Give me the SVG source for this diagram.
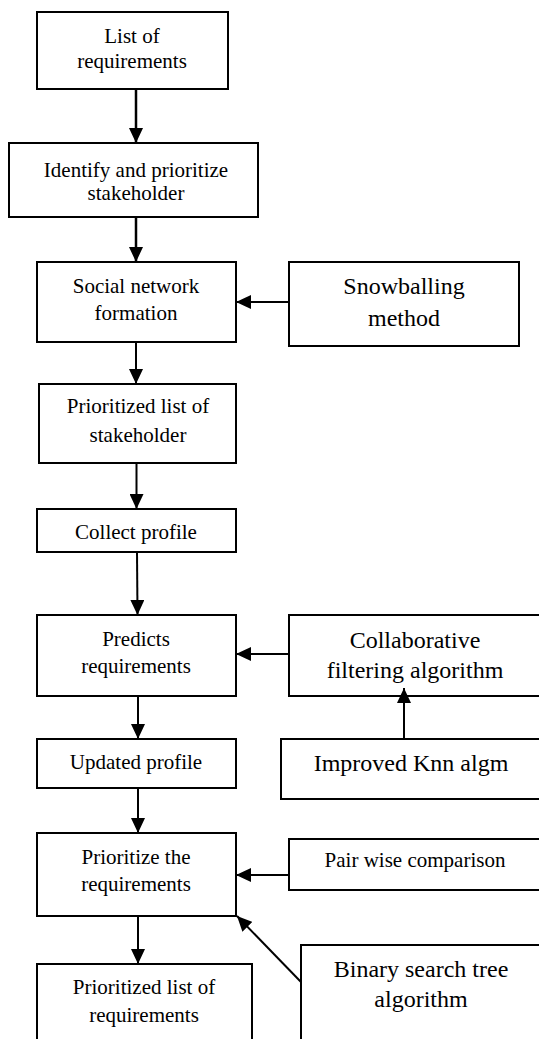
<svg xmlns="http://www.w3.org/2000/svg" width="539" height="1039" viewBox="0 0 539 1039">
  <style>
    .box { fill: #ffffff; stroke: #000000; stroke-width: 2; }
    text { font-family: "Liberation Serif", "Times New Roman", Times, "DejaVu Serif", serif; fill: #000000; text-anchor: middle; }
    .t { font-size: 21px; }
    .tl { font-size: 24px; }
    .edge { stroke: #000000; stroke-width: 2; fill: none; marker-end: url(#arrow); }
    .edge.bold { stroke-width: 2.5; }
  </style>
  <defs>
    <marker id="arrow" markerUnits="userSpaceOnUse" markerWidth="15" markerHeight="14" refX="15" refY="7" orient="auto">
      <path d="M0,0 L15,7 L0,14 z" fill="#000000"/>
    </marker>
  </defs>

  <rect width="539" height="1039" fill="#ffffff"/>

  <!-- main flow -->
  <g id="list-of-requirements" font-family="Liberation Serif, serif">
    <rect class="box" x="37" y="12" width="191" height="77"/>
    <text class="t" x="132" y="43">List of</text>
    <text class="t" x="132" y="68">requirements</text>
  </g>
  <g id="identify-stakeholder">
    <rect class="box" x="9" y="143" width="249" height="74"/>
    <text class="t" x="136" y="177">Identify and prioritize</text>
    <text class="t" x="136" y="200">stakeholder</text>
  </g>
  <g id="social-network">
    <rect class="box" x="37" y="262" width="199" height="80"/>
    <text class="t" x="136" y="293">Social network</text>
    <text class="t" x="136" y="320">formation</text>
  </g>
  <g id="prioritized-stakeholders">
    <rect class="box" x="39" y="384" width="197" height="79"/>
    <text class="t" x="138" y="413">Prioritized list of</text>
    <text class="t" x="138" y="442">stakeholder</text>
  </g>
  <g id="collect-profile">
    <rect class="box" x="37" y="509" width="199" height="43"/>
    <text class="t" x="136" y="539">Collect profile</text>
  </g>
  <g id="predicts-requirements">
    <rect class="box" x="37" y="615" width="199" height="81"/>
    <text class="t" x="136" y="646">Predicts</text>
    <text class="t" x="136" y="673">requirements</text>
  </g>
  <g id="updated-profile">
    <rect class="box" x="37" y="739" width="199" height="49"/>
    <text class="t" x="136" y="769">Updated profile</text>
  </g>
  <g id="prioritize-requirements">
    <rect class="box" x="37" y="833" width="199" height="83"/>
    <text class="t" x="136" y="864">Prioritize the</text>
    <text class="t" x="136" y="891">requirements</text>
  </g>
  <g id="prioritized-requirements">
    <rect class="box" x="37" y="964" width="215" height="90"/>
    <text class="t" x="144" y="994">Prioritized list of</text>
    <text class="t" x="144" y="1022">requirements</text>
  </g>

  <!-- supporting methods -->
  <g id="snowballing">
    <rect class="box" x="289" y="262" width="230" height="84"/>
    <text class="tl" x="404" y="294">Snowballing</text>
    <text class="tl" x="404" y="326">method</text>
  </g>
  <g id="collaborative-filtering">
    <rect class="box" x="289" y="615" width="260" height="81"/>
    <text class="tl" x="415" y="648">Collaborative</text>
    <text class="tl" x="415" y="678">filtering algorithm</text>
  </g>
  <g id="improved-knn">
    <rect class="box" x="281" y="739" width="268" height="60"/>
    <text class="tl" x="411" y="771">Improved Knn algm</text>
  </g>
  <g id="pair-wise">
    <rect class="box" x="289" y="839" width="260" height="51"/>
    <text class="t" x="415" y="867">Pair wise comparison</text>
  </g>
  <g id="binary-search-tree">
    <rect class="box" x="301" y="945" width="248" height="110"/>
    <text class="tl" x="421" y="977">Binary search tree</text>
    <text class="tl" x="421" y="1007">algorithm</text>
  </g>

  <!-- connectors -->
  <g id="connectors">
    <line class="edge bold" x1="136" y1="89" x2="136" y2="143"/>
    <line class="edge bold" x1="136" y1="217" x2="136" y2="262"/>
    <line class="edge" x1="289" y1="302" x2="236" y2="302"/>
    <line class="edge" x1="136" y1="342" x2="136" y2="384"/>
    <line class="edge" x1="136.5" y1="463" x2="136.5" y2="509"/>
    <line class="edge" x1="137" y1="552" x2="137.5" y2="615"/>
    <line class="edge" x1="289" y1="654" x2="236" y2="654"/>
    <line class="edge" x1="404" y1="739" x2="404" y2="688"/>
    <line class="edge" x1="138" y1="696" x2="138" y2="739"/>
    <line class="edge" x1="138" y1="788" x2="138" y2="833"/>
    <line class="edge" x1="289" y1="875" x2="236" y2="875"/>
    <line class="edge" x1="301" y1="982" x2="237" y2="916"/>
    <line class="edge" x1="138" y1="916" x2="138" y2="964"/>
  </g>
</svg>
